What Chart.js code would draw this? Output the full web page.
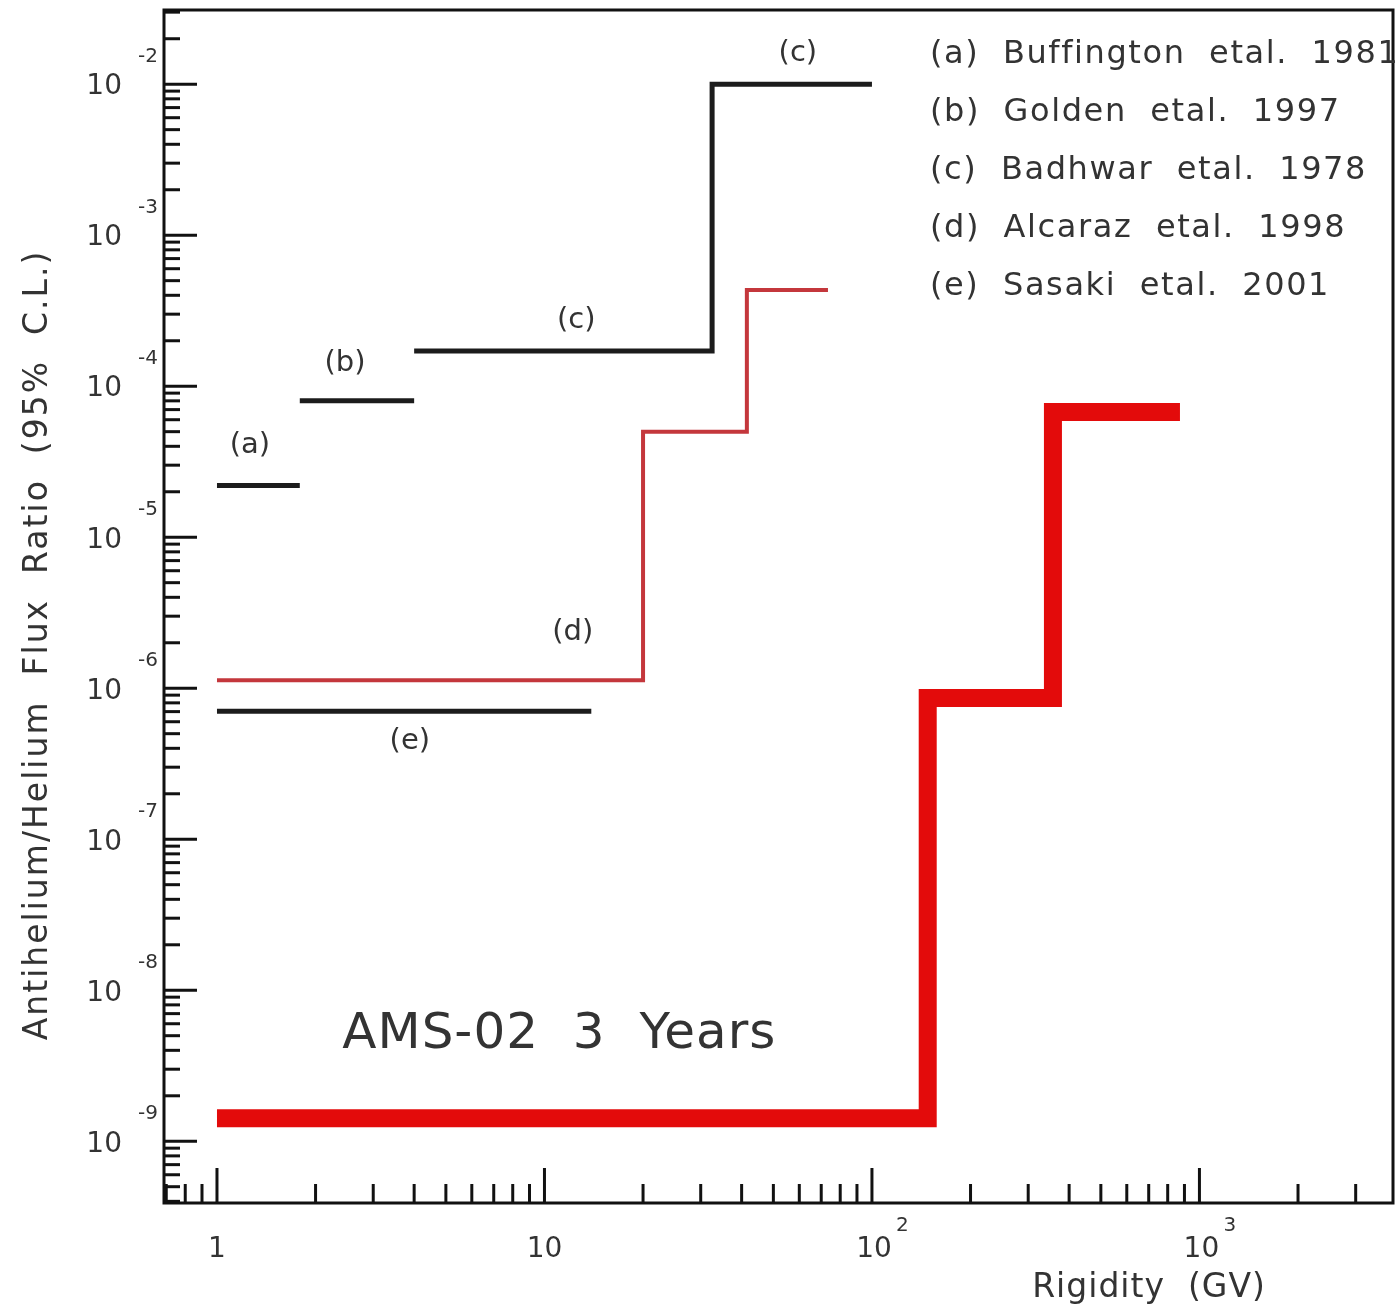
<!DOCTYPE html>
<html>
<head>
<meta charset="utf-8">
<script src="https://cdn.jsdelivr.net/npm/chart.js@4/dist/chart.umd.min.js"></script>
<style>
  html, body { margin: 0; padding: 0; background: #fff; }
  #wrap { width: 1397px; height: 1309px; }
</style>
</head>
<body>
<div id="wrap"><canvas id="c" width="1397" height="1309"></canvas></div>
<script>
// step limits: bin edges (GV) and ratio level in each bin
const aEdges = [1, 1.79],        aLevels = [2.2e-5];
const bEdges = [1.79, 4.0],      bLevels = [8.0e-5];
const cEdges = [4.0, 32.5, 100], cLevels = [1.71e-4, 1.0e-2];
const dEdges = [1, 20, 41.5, 73.4], dLevels = [1.13e-6, 5.0e-5, 4.33e-4];
const eEdges = [1, 13.9],        eLevels = [7.05e-7];
const amsEdges = [1, 148, 357, 872], amsLevels = [1.42e-9, 8.6e-7, 6.76e-5];

// axis ticks
const xTickValues = [1, 10, 100, 1000];
const xTickLabels = [['1', ''], ['10', ''], ['10', '2'], ['10', '3']];
const yTickExps = [-2, -3, -4, -5, -6, -7, -8, -9];

const legendLines = [
  '(a)  Buffington  etal.  1981',
  '(b)  Golden  etal.  1997',
  '(c)  Badhwar  etal.  1978',
  '(d)  Alcaraz  etal.  1998',
  '(e)  Sasaki  etal.  2001'
];

// curve labels [text, x (GV), y (ratio)]
const curveNotes = [
  ['(a)', 1.26, 4.07e-5],
  ['(b)', 2.46, 1.42e-4],
  ['(c)', 12.5, 2.74e-4],
  ['(c)', 59.4, 1.6e-2],
  ['(d)', 12.2, 2.35e-6],
  ['(e)', 3.88, 4.46e-7]
];
const amsNote = ['AMS-02  3  Years', 11.1, 5.04e-9];

function stepPoints(edges, levels) {
  let pts = [];
  levels.forEach((v, i) => { pts.push({x: edges[i], y: v}); pts.push({x: edges[i+1], y: v}); });
  return pts;
}

function line(pts, color, w) {
  return { data: pts, borderColor: color, borderWidth: w, showLine: true, pointRadius: 0,
    borderJoinStyle: 'miter', borderCapStyle: 'butt', tension: 0, fill: false };
}

const FONT = '"DejaVu Sans", sans-serif';
const TXT = '#333';

const decor = {
  id: 'decor',
  afterDraw(chart) {
    const {ctx, chartArea: a, scales: {x, y}} = chart;
    ctx.save();
    ctx.strokeStyle = '#111';
    ctx.lineWidth = 3;
    ctx.strokeRect(a.left, a.top, a.right - a.left, a.bottom - a.top);

    // y ticks (inward)
    for (let e = -10; e <= -1; e++) for (let m = 1; m <= 9; m++) {
      const v = m * Math.pow(10, e);
      if (v < y.min || v > y.max) continue;
      const py = y.getPixelForValue(v);
      ctx.beginPath(); ctx.moveTo(a.left, py); ctx.lineTo(a.left + (m === 1 ? 33 : 16), py); ctx.stroke();
    }
    // x ticks (inward)
    for (let e = -1; e <= 3; e++) for (let m = 1; m <= 9; m++) {
      const v = m * Math.pow(10, e);
      if (v < x.min || v > x.max) continue;
      const px = x.getPixelForValue(v);
      ctx.beginPath(); ctx.moveTo(px, a.bottom); ctx.lineTo(px, a.bottom - (m === 1 ? 35 : 19)); ctx.stroke();
    }

    ctx.fillStyle = TXT;
    ctx.textBaseline = 'middle';
    // y tick labels
    yTickExps.forEach(e => {
      const py = y.getPixelForValue(Math.pow(10, e));
      ctx.font = '28px ' + FONT; ctx.textAlign = 'right';
      ctx.fillText('10', 122, py + 3);
      ctx.font = '20px ' + FONT; ctx.textAlign = 'left';
      ctx.fillText(String(e), 138, py - 27);
    });
    // x tick labels
    xTickValues.forEach((v, i) => {
      const px = x.getPixelForValue(v);
      const [base, exp] = xTickLabels[i];
      ctx.font = '28px ' + FONT; ctx.textAlign = 'center';
      ctx.fillText(base, px + (exp ? 2 : 0), 1250);
      if (exp) { ctx.font = '20px ' + FONT; ctx.textAlign = 'left'; ctx.fillText(exp, px + 24, 1226); }
    });

    // axis titles
    ctx.font = '33px ' + FONT;
    ctx.textAlign = 'center';
    ctx.letterSpacing = '1px';
    ctx.fillText('Rigidity  (GV)', 1149, 1288);
    ctx.save();
    ctx.translate(38, 645);
    ctx.rotate(-Math.PI / 2);
    ctx.letterSpacing = '2px';
    ctx.fillText('Antihelium/Helium  Flux  Ratio  (95%  C.L.)', 0, 0);
    ctx.restore();

    // legend
    ctx.font = '32px ' + FONT;
    ctx.textAlign = 'left';
    ctx.letterSpacing = '1.6px';
    legendLines.forEach((t, i) => ctx.fillText(t, 930, 55 + i * 58));

    // curve notes
    ctx.letterSpacing = '0px';
    ctx.font = '29px ' + FONT;
    ctx.textAlign = 'center';
    curveNotes.forEach(([t, vx, vy]) => ctx.fillText(t, x.getPixelForValue(vx), y.getPixelForValue(vy)));
    ctx.font = '50px ' + FONT;
    ctx.letterSpacing = '1px';
    ctx.fillText(amsNote[0], x.getPixelForValue(amsNote[1]), y.getPixelForValue(amsNote[2]));
    ctx.restore();
  }
};

new Chart(document.getElementById('c'), {
  type: 'scatter',
  data: {
    datasets: [
      line(stepPoints(aEdges, aLevels), '#1c1c1c', 5),
      line(stepPoints(bEdges, bLevels), '#1c1c1c', 5),
      line(stepPoints(cEdges, cLevels), '#1c1c1c', 5),
      line(stepPoints(eEdges, eLevels), '#1c1c1c', 5),
      line(stepPoints(dEdges, dLevels), '#c4373c', 4),
      line(stepPoints(amsEdges, amsLevels), '#e30b0b', 18)
    ]
  },
  options: {
    responsive: false,
    animation: false,
    layout: { padding: { left: 164, top: 10, right: 4, bottom: 106 } },
    plugins: { legend: { display: false }, tooltip: { enabled: false } },
    scales: {
      x: { type: 'logarithmic', display: false, bounds: 'data', min: 0.689, max: 3900 },
      y: { type: 'logarithmic', display: false, bounds: 'data', min: 3.9e-10, max: 0.031 }
    }
  },
  plugins: [decor]
});
</script>
</body>
</html>
